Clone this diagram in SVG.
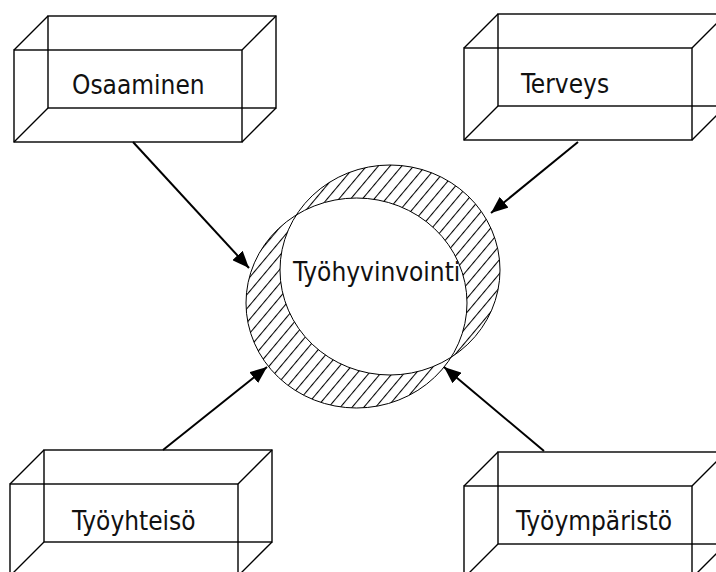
<svg xmlns="http://www.w3.org/2000/svg" width="716" height="572" viewBox="0 0 716 572">
<style>
.edge{fill:none;stroke:#000;stroke-width:1.4}
.lbl{font-family:"DejaVu Sans Condensed","DejaVu Sans",sans-serif;font-stretch:condensed;font-size:26px;fill:#111}
.conn{stroke:#000;stroke-width:2;fill:none}
</style>
<defs>
<marker id="ah" markerUnits="userSpaceOnUse" markerWidth="18" markerHeight="14" refX="17" refY="7" orient="auto">
<path d="M0,0 L17,7 L0,14 z" fill="#000"/>
</marker>
<pattern id="hatch" patternUnits="userSpaceOnUse" width="9" height="10" patternTransform="rotate(40)">
<line x1="0.5" y1="-1" x2="0.5" y2="11" stroke="#000" stroke-width="1.1"/>
</pattern>
</defs>
<rect width="716" height="572" fill="#fff"/>

<g id="tyohyvinvointi">
<path d="M280,270 a110,105 0 1,0 220,0 a110,105 0 1,0 -220,0 Z M246,303 a110.5,105 0 1,0 221,0 a110.5,105 0 1,0 -221,0 Z" fill="url(#hatch)" fill-rule="evenodd" stroke="#000" stroke-width="1"/>
<text class="lbl" x="293" y="281">Työhyvinvointi</text>
</g>

<g id="osaaminen">
<rect class="edge" x="48" y="16" width="228" height="92"/>
<rect class="edge" x="14" y="50" width="228" height="92"/>
<path class="edge" d="M14,50 L48,16 M242,50 L276,16 M14,142 L48,108 M242,142 L276,108"/>
<text class="lbl" x="72" y="94">Osaaminen</text>
</g>

<g id="terveys">
<rect class="edge" x="498" y="14" width="228" height="92"/>
<rect class="edge" x="464" y="48" width="228" height="92"/>
<path class="edge" d="M464,48 L498,14 M692,48 L726,14 M464,140 L498,106 M692,140 L726,106"/>
<text class="lbl" x="521" y="93">Terveys</text>
</g>

<g id="tyoyhteiso">
<rect class="edge" x="44" y="450" width="228" height="92"/>
<rect class="edge" x="10" y="484" width="228" height="92"/>
<path class="edge" d="M10,484 L44,450 M238,484 L272,450 M10,576 L44,542 M238,576 L272,542"/>
<text class="lbl" x="72" y="530">Työyhteisö</text>
</g>

<g id="tyoymparisto">
<rect class="edge" x="498" y="452" width="228" height="92"/>
<rect class="edge" x="464" y="486" width="228" height="92"/>
<path class="edge" d="M464,486 L498,452 M692,486 L726,452 M464,578 L498,544 M692,578 L726,544"/>
<text class="lbl" x="516" y="530">Työympäristö</text>
</g>

<g id="connectors">
<line class="conn" x1="133" y1="142" x2="249" y2="268" marker-end="url(#ah)"/>
<line class="conn" x1="578" y1="142" x2="491" y2="213" marker-end="url(#ah)"/>
<line class="conn" x1="163" y1="450" x2="267" y2="367" marker-end="url(#ah)"/>
<line class="conn" x1="544" y1="451" x2="444" y2="367" marker-end="url(#ah)"/>
</g>
</svg>
